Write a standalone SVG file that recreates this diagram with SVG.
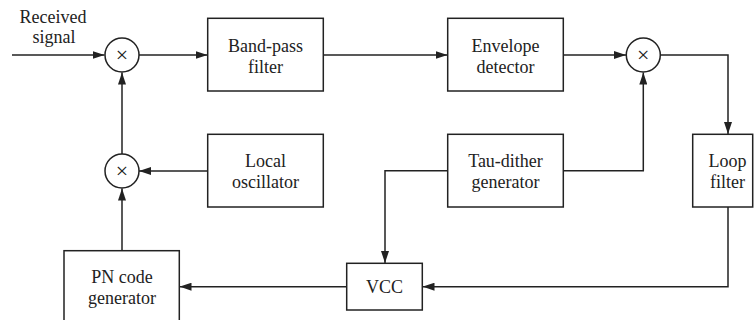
<svg xmlns="http://www.w3.org/2000/svg" width="754" height="320" viewBox="0 0 754 320">
<style>
.box{fill:#fff;stroke:#222;stroke-width:1.5}
.mul{fill:#fff;stroke:#222;stroke-width:1.5}
text{font-family:'Liberation Serif','DejaVu Serif',serif;fill:#222;text-anchor:middle}
.t{font-size:18px}
.x{font-size:22px}
.c{fill:none;stroke:#222;stroke-width:1.5;marker-end:url(#ah)}
</style>
<defs>
<marker id="ah" markerUnits="userSpaceOnUse" markerWidth="12" markerHeight="8" refX="12" refY="4" orient="auto">
<path d="M0,0 L12,4 L0,8 z" fill="#222"/>
</marker>
</defs>
<text class="t" x="53" y="23" font-family="Liberation Serif">Received</text>
<text class="t" x="54" y="43" font-family="Liberation Serif">signal</text>
<g id="connectors">
<path class="c" d="M12,55 H104.5"/>
<path class="c" d="M138.7,55 H207.5"/>
<path class="c" d="M323.3,55 H447.5"/>
<path class="c" d="M563.3,55 H626"/>
<path class="c" d="M660.3,55 H728 V134"/>
<path class="c" d="M728,207 V286.7 H422.5"/>
<path class="c" d="M346.7,286.7 H179.5"/>
<path class="c" d="M122,250.7 V188.5"/>
<path class="c" d="M207.7,171 H139"/>
<path class="c" d="M122,154 V72.5"/>
<path class="c" d="M563.3,170.7 H643.3 V72.5"/>
<path class="c" d="M447.5,170.7 H385 V263"/>
</g>
<g id="mult1"><circle class="mul" cx="122" cy="55" r="17"/><text class="x" x="122" y="62">×</text></g>
<g id="mult2"><circle class="mul" cx="643.3" cy="55" r="17"/><text class="x" x="643.3" y="62">×</text></g>
<g id="mult3"><circle class="mul" cx="122" cy="171" r="17"/><text class="x" x="122" y="178">×</text></g>
<g id="bpf"><rect class="box" x="207.7" y="18.3" width="115.6" height="72.7"/><text class="t" x="265.5" y="52">Band-pass</text><text class="t" x="265.5" y="73">filter</text></g>
<g id="env"><rect class="box" x="447.7" y="18.3" width="115.6" height="72.7"/><text class="t" x="505.5" y="52">Envelope</text><text class="t" x="505.5" y="73">detector</text></g>
<g id="lo"><rect class="box" x="207.7" y="134.3" width="115.6" height="72.7"/><text class="t" x="265.5" y="167">Local</text><text class="t" x="265.5" y="188">oscillator</text></g>
<g id="tau"><rect class="box" x="447.7" y="134.3" width="115.6" height="72.7"/><text class="t" x="505.5" y="167">Tau-dither</text><text class="t" x="505.5" y="188">generator</text></g>
<g id="loop"><rect class="box" x="692.7" y="134.3" width="60" height="72.7"/><text class="t" x="727.5" y="167">Loop</text><text class="t" x="727.5" y="188">filter</text></g>
<g id="vcc"><rect class="box" x="346.7" y="263.3" width="75.6" height="46.7"/><text class="t" x="384.5" y="293">VCC</text></g>
<g id="pn"><rect class="box" x="64" y="250.7" width="115.3" height="75"/><text class="t" x="122" y="283">PN code</text><text class="t" x="122" y="304">generator</text></g>
</svg>
